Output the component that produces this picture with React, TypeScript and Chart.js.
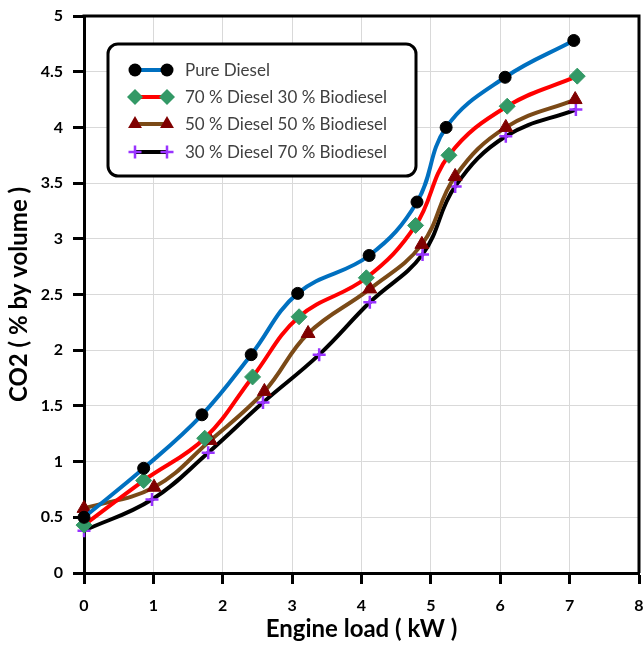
import React, { useEffect, useRef } from 'react';
import { Chart, registerables } from 'chart.js';

Chart.register(...registerables);

// ---- data ----
const loadPure = [0, 0.86, 1.70, 2.41, 3.08, 4.11, 4.80, 5.22, 6.07, 7.06];
const co2Pure = [0.50, 0.94, 1.42, 1.96, 2.51, 2.85, 3.33, 4.00, 4.45, 4.78];

const loadD70 = [0, 0.86, 1.74, 2.43, 3.10, 4.07, 4.78, 5.26, 6.10, 7.11];
const co2D70 = [0.43, 0.83, 1.21, 1.76, 2.30, 2.65, 3.12, 3.75, 4.19, 4.46];

const loadD50 = [0, 1.01, 1.82, 2.60, 3.23, 4.12, 4.87, 5.35, 6.08, 7.08];
const co2D50 = [0.58, 0.77, 1.19, 1.63, 2.15, 2.55, 2.95, 3.56, 4.00, 4.25];

const loadD30 = [0, 0.98, 1.79, 2.58, 3.39, 4.12, 4.88, 5.35, 6.08, 7.09];
const co2D30 = [0.38, 0.66, 1.08, 1.53, 1.96, 2.43, 2.86, 3.47, 3.92, 4.16];

const seriesNames = [
  'Pure Diesel',
  '70 % Diesel 30 % Biodiesel',
  '50 % Diesel 50 % Biodiesel',
  '30 % Diesel 70 % Biodiesel',
];
const xTitle = 'Engine load ( kW )';
const yTitle = 'CO2 ( % by volume )';

const xMin = 0, xMax = 8, xStep = 1;
const yMin = 0, yMax = 5, yStep = 0.5;

const FONT = 'Lato, "Open Sans", sans-serif';

type Shape = 'circle' | 'rectRot' | 'triangle' | 'cross';
const styles: { line: string; marker: string; shape: Shape; r: number; bw: number }[] = [
  { line: '#0070C0', marker: '#000000', shape: 'circle', r: 6, bw: 1 },
  { line: '#FF0000', marker: '#339966', shape: 'rectRot', r: 8, bw: 1 },
  { line: '#7B4A17', marker: '#800000', shape: 'triangle', r: 8, bw: 1 },
  { line: '#000000', marker: '#9933FF', shape: 'cross', r: 6.5, bw: 2.5 },
];

const seriesX = [loadPure, loadD70, loadD50, loadD30];
const seriesY = [co2Pure, co2D70, co2D50, co2D30];

function drawMarker(ctx: CanvasRenderingContext2D, shape: Shape, x: number, y: number, r: number, color: string) {
  ctx.save();
  ctx.fillStyle = color;
  ctx.strokeStyle = color;
  ctx.beginPath();
  if (shape === 'circle') {
    ctx.arc(x, y, r + 0.5, 0, Math.PI * 2);
    ctx.fill();
  } else if (shape === 'rectRot') {
    ctx.moveTo(x, y - r);
    ctx.lineTo(x + r, y);
    ctx.lineTo(x, y + r);
    ctx.lineTo(x - r, y);
    ctx.closePath();
    ctx.fill();
  } else if (shape === 'triangle') {
    const a = (2 * Math.PI) / 3;
    ctx.moveTo(x, y - r);
    ctx.lineTo(x + Math.sin(a) * r, y - Math.cos(a) * r);
    ctx.lineTo(x + Math.sin(2 * a) * r, y - Math.cos(2 * a) * r);
    ctx.closePath();
    ctx.fill();
  } else {
    ctx.lineWidth = 2.5;
    ctx.moveTo(x - r, y);
    ctx.lineTo(x + r, y);
    ctx.moveTo(x, y - r);
    ctx.lineTo(x, y + r);
    ctx.stroke();
  }
  ctx.restore();
}

const framePlugin = {
  id: 'frame',
  beforeDatasetsDraw(chart: any) {
    const { ctx, chartArea } = chart;
    ctx.save();
    ctx.strokeStyle = '#000';
    ctx.lineWidth = 3;
    ctx.beginPath();
    ctx.moveTo(chartArea.left - 1.5, chartArea.top);
    ctx.lineTo(chartArea.right, chartArea.top);
    ctx.lineTo(chartArea.right, chartArea.bottom);
    ctx.stroke();
    ctx.restore();
  },
};

const legendPlugin = {
  id: 'boxLegend',
  afterDatasetsDraw(chart: any) {
    const ctx: CanvasRenderingContext2D = chart.ctx;
    const bx = 108, by = 44, bw = 308, bh = 132;
    ctx.save();
    ctx.beginPath();
    ctx.roundRect(bx, by, bw, bh, 10);
    ctx.fillStyle = '#ffffff';
    ctx.fill();
    ctx.lineWidth = 3;
    ctx.strokeStyle = '#000';
    ctx.stroke();
    const rows = [70, 97, 124, 152];
    ctx.font = `17px ${FONT}`;
    ctx.textBaseline = 'middle';
    ctx.textAlign = 'left';
    seriesNames.forEach((name, i) => {
      const s = styles[i];
      const y = rows[i];
      ctx.beginPath();
      ctx.strokeStyle = s.line;
      ctx.lineWidth = 4;
      ctx.moveTo(135, y);
      ctx.lineTo(167, y);
      ctx.stroke();
      drawMarker(ctx, s.shape, 135, y, s.r, s.marker);
      drawMarker(ctx, s.shape, 167, y, s.r, s.marker);
      ctx.fillStyle = '#404040';
      ctx.fillText(name, 185, y + 1);
    });
    ctx.restore();
  },
};

const fmt = (v: any) => String(Number(Number(v).toFixed(2)));

export default function App() {
  const ref = useRef<HTMLCanvasElement | null>(null);
  useEffect(() => {
    if (!ref.current) return;
    const datasets = seriesNames.map((name, i) => {
      const s = styles[i];
      return {
        label: name,
        data: seriesX[i].map((x, j) => ({ x, y: seriesY[i][j] })),
        borderColor: s.line,
        backgroundColor: s.marker,
        borderWidth: 4,
        tension: 0.4,
        pointStyle: s.shape,
        pointRadius: s.r,
        pointBorderColor: s.marker,
        pointBackgroundColor: s.marker,
        pointBorderWidth: s.bw,
        clip: false as any,
      };
    });
    const tickFont = { family: FONT, size: 16, weight: 'bold' as const };
    const chart = new Chart(ref.current, {
      type: 'line',
      data: { datasets },
      options: {
        animation: false,
        responsive: false,
        events: [],
        layout: { autoPadding: false, padding: { left: 0, right: 4, top: 16, bottom: 0 } } as any,
        plugins: { legend: { display: false }, tooltip: { enabled: false } },
        scales: {
          x: {
            type: 'linear',
            min: xMin,
            max: xMax,
            afterFit: (s: any) => {
              s.height = 73;
              s.paddingLeft = 0;
              s.paddingRight = 0;
            },
            ticks: { stepSize: xStep, font: tickFont, color: '#000', padding: 12, maxRotation: 0, callback: fmt },
            grid: { color: '#d9d9d9', lineWidth: 1, tickLength: 11, tickColor: '#000', tickWidth: 3 } as any,
            border: { display: true, color: '#000', width: 3 },
            title: {
              display: true,
              text: xTitle,
              font: { family: FONT, size: 24, weight: 'bold' },
              color: '#000',
              padding: { top: 0, bottom: 2 },
            },
          },
          y: {
            type: 'linear',
            min: yMin,
            max: yMax,
            afterFit: (s: any) => {
              s.width = 84;
              s.paddingTop = 0;
              s.paddingBottom = 0;
            },
            ticks: { stepSize: yStep, font: tickFont, color: '#000', padding: 10, callback: fmt },
            grid: { color: '#d9d9d9', lineWidth: 1, tickLength: 11, tickColor: '#000', tickWidth: 3 } as any,
            border: { display: true, color: '#000', width: 3 },
            title: {
              display: true,
              text: yTitle,
              font: { family: FONT, size: 24, weight: 'bold' },
              color: '#000',
              padding: { top: 5, bottom: 0 },
            },
          },
        },
      },
      plugins: [framePlugin, legendPlugin],
    });
    return () => chart.destroy();
  }, []);
  return (
    <div style={{ position: 'fixed', left: 0, top: 0, width: 643, height: 646, background: '#fff' }}>
      <canvas ref={ref} width={643} height={646} style={{ display: 'block', width: 643, height: 646 }} />
    </div>
  );
}
